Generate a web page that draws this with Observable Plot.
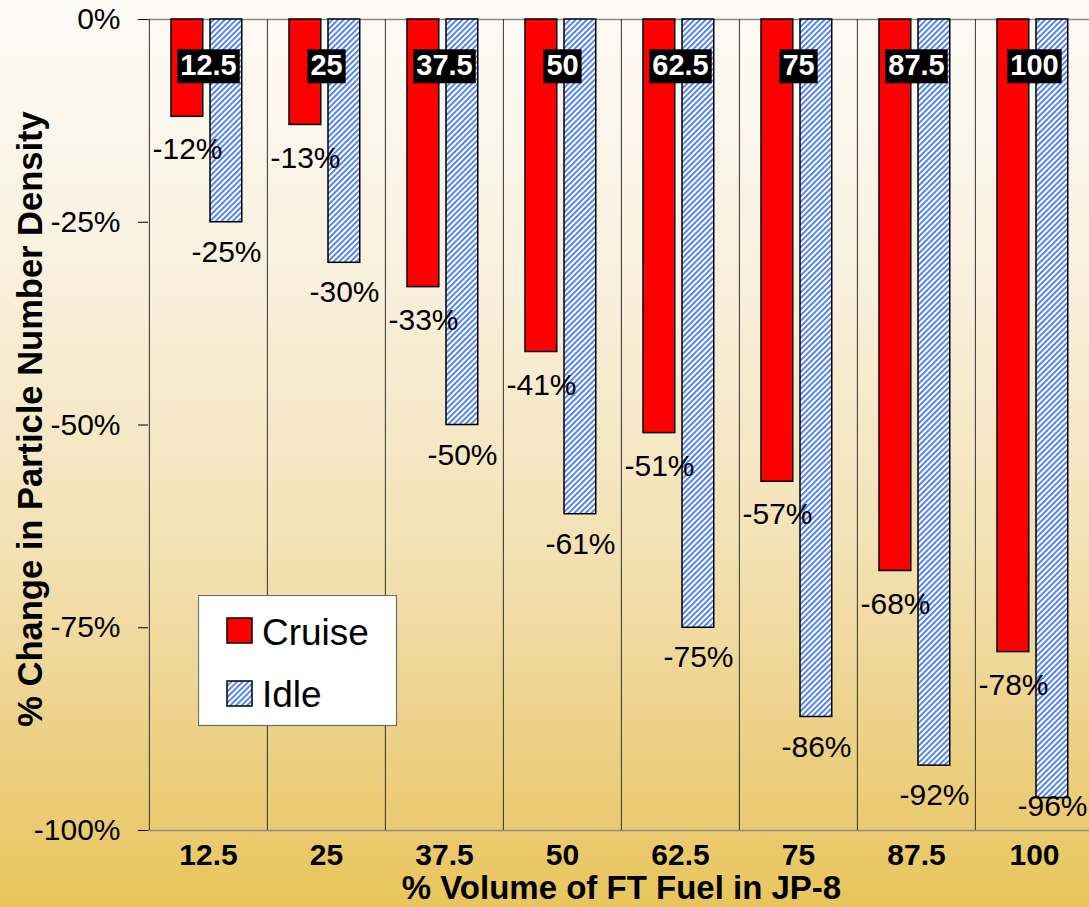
<!DOCTYPE html>
<html><head><meta charset="utf-8">
<script src="https://cdn.jsdelivr.net/npm/d3@7"></script>
<script src="https://cdn.jsdelivr.net/npm/@observablehq/plot@0.6"></script>
<style>
html,body{margin:0;padding:0;overflow:hidden;width:1089px;height:907px;}
body{background:linear-gradient(to bottom,#fdfbf6 0%,#f9f1df 30%,#f3e2b6 60%,#ecd085 82%,#e8c55c 100%);position:relative;font-family:"Liberation Sans",Arial,sans-serif;}
#chart{position:absolute;left:0;top:0;width:1100px;}
#legend{position:absolute;left:198px;top:595px;}
</style></head><body><div id="chart"></div><div id="legend"></div>
<script>
const categories = ["12.5","25","37.5","50","62.5","75","87.5","100"];
const cruise = [-12,-13,-33,-41,-51,-57,-68,-78];
const idle = [-25,-30,-50,-61,-75,-86,-92,-96];
const yTicks = [0,-25,-50,-75,-100];
const seriesNames = ["Cruise","Idle"];
const xTitle = "% Volume of FT Fuel in JP-8";
const yTitle = "% Change in Particle Number Density";

const cruiseData = categories.map((c,i)=>({cat:c, value:cruise[i]}));
const idleData = categories.map((c,i)=>({cat:c, value:idle[i]}));

const W=1100,H=907,ML=148,MR=6,MT=19,MB=77;
const bw=(W-ML-MR)/categories.length;
const FONT="'Liberation Sans', Arial, sans-serif";
const HATCH=`<rect width="4" height="4" fill="#ffffff"/><rect width="1.8" height="4" fill="#4677f6"/>`;

const chart = Plot.plot({
  width:W,height:H,marginLeft:ML,marginRight:MR,marginTop:MT,marginBottom:MB,
  style:{background:"transparent",fontFamily:FONT,color:"#000",overflow:"visible",maxWidth:"none",width:W+"px",height:H+"px"},
  x:{type:"band",domain:categories,padding:0,label:null},
  y:{domain:[-100,0],label:null},
  marks:[
    Plot.ruleY([0,-100],{stroke:"#8a8a8a",strokeWidth:1.5}),
    Plot.ruleX(categories,{x:d=>d,dx:-bw/2,stroke:"#333",strokeWidth:1}),
    Plot.barY(cruiseData,{x:"cat",y:"value",fill:"#ff0000",stroke:"#000",strokeWidth:1.5,insetLeft:22,insetRight:bw-54}),
    Plot.barY(idleData,{x:"cat",y:"value",fill:"url(#hatch)",stroke:"#000",strokeWidth:1.5,insetLeft:61,insetRight:bw-93}),
    Plot.text(cruiseData,{x:"cat",y:"value",text:d=>`${d.value}%`,dx:-21,dy:33,fontSize:30,fill:"#000"}),
    Plot.text(idleData,{x:"cat",y:"value",text:d=>`${d.value}%`,dx:18,dy:30,fontSize:30,fill:"#010101"}),
    Plot.text(categories,{x:d=>d,text:d=>d,frameAnchor:"top",lineAnchor:"middle",dy:46,fontSize:29,fontWeight:"bold",fill:"#ffffff"}),
    Plot.axisY({ticks:yTicks,tickFormat:d=>`${d}%`,tickSize:10,tickPadding:18,fontSize:30,label:null}),
    Plot.axisX({tickSize:0,tickPadding:13,fontSize:30,fontWeight:"bold",label:null}),
    Plot.text([xTitle],{text:d=>d,frameAnchor:"bottom",textAnchor:"middle",lineAnchor:"middle",dy:58,fontSize:33,fontWeight:"bold",fill:"#000"}),
    Plot.text([yTitle],{text:d=>d,frameAnchor:"left",textAnchor:"middle",lineAnchor:"middle",dx:-118,dy:-6,rotate:-90,fontSize:34.5,fontWeight:"bold",fill:"#000"})
  ]
});
document.getElementById("chart").appendChild(chart);

const ns="http://www.w3.org/2000/svg";
const defs=document.createElementNS(ns,"defs");
defs.innerHTML=`<pattern id="hatch" patternUnits="userSpaceOnUse" width="4" height="4" patternTransform="rotate(45)">${HATCH}</pattern>`;
chart.insertBefore(defs,chart.firstChild);

const svgBox=chart.getBoundingClientRect();
const plotBottom=H-MB;

// keep value labels inside the plot area (as the spreadsheet does)
chart.querySelectorAll("text").forEach(t=>{
  const f=getComputedStyle(t).fill;
  if(f==="rgb(1, 1, 1)"){
    const b=t.getBoundingClientRect();
    const over=(b.bottom-svgBox.top)-(plotBottom+1);
    if(over>0){
      const y0=parseFloat(t.getAttribute("y")||"0");
      t.setAttribute("y",y0-over);
    }
  }
});

// black boxes behind the white category labels
const boxLayer=document.createElementNS(ns,"g");
let firstWhiteGroup=null;
chart.querySelectorAll("text").forEach(t=>{
  const f=getComputedStyle(t).fill;
  if(f==="rgb(255, 255, 255)" || f==="#ffffff"){
    if(!firstWhiteGroup) firstWhiteGroup=t.parentNode;
    const b=t.getBoundingClientRect();
    const r=document.createElementNS(ns,"rect");
    r.setAttribute("x",b.left-svgBox.left-3);
    r.setAttribute("y",b.top-svgBox.top+0.5);
    r.setAttribute("width",b.width+6);
    r.setAttribute("height",b.height+2);
    r.setAttribute("fill","#000");
    boxLayer.appendChild(r);
  }
});
if(firstWhiteGroup){
  let g=firstWhiteGroup; while(g.parentNode!==chart) g=g.parentNode;
  chart.insertBefore(boxLayer,g);
}

// legend
document.getElementById("legend").innerHTML=`<svg width="200" height="132" xmlns="${ns}" style="display:block;font-family:${FONT.replace(/'/g,'&quot;')}">
<defs><pattern id="hatch2" patternUnits="userSpaceOnUse" width="4" height="4" patternTransform="rotate(45)">${HATCH}</pattern></defs>
<rect x="0.5" y="0.5" width="198" height="130" fill="#fff" stroke="#6e6e6e" stroke-width="1.2"/>
<rect x="29" y="23" width="25" height="25" fill="#ff0000" stroke="#000" stroke-width="1.5"/>
<text x="64" y="50" font-size="37" fill="#000">${seriesNames[0]}</text>
<rect x="29" y="86" width="25" height="25" fill="url(#hatch2)" stroke="#000" stroke-width="1.5"/>
<text x="64" y="112" font-size="37" fill="#000">${seriesNames[1]}</text>
</svg>`;
</script></body></html>
